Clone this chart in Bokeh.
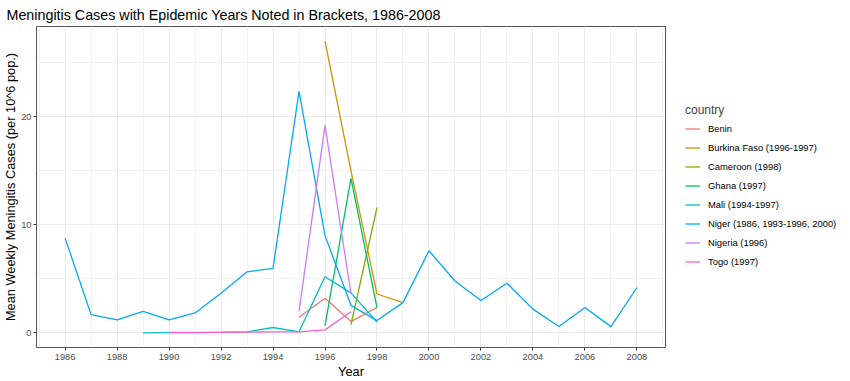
from bokeh.plotting import figure
from bokeh.models import Legend, LegendItem, FixedTicker, Range1d
from bokeh.embed import file_html
from bokeh.resources import INLINE

countries = ["Benin", "Burkina Faso (1996-1997)", "Cameroon (1998)", "Ghana (1997)",
             "Mali (1994-1997)", "Niger (1986, 1993-1996, 2000)", "Nigeria (1996)", "Togo (1997)"]
colors = ["#F8766D", "#CD9600", "#7CAE00", "#00BE67", "#00BFC4", "#00A9FF", "#C77CFF", "#FF61CC"]

benin_years = [1995, 1996, 1997, 1998]
benin_vals = [1.45, 3.2, 1.05, 2.35]

burkina_years = [1996, 1997, 1998, 1999]
burkina_vals = [27.0, 15.0, 3.6, 2.8]

cameroon_years = [1997, 1998]
cameroon_vals = [0.77, 11.6]

ghana_years = [1996, 1997, 1998]
ghana_vals = [0.67, 14.3, 2.35]

mali_years = [1989, 1990, 1991, 1992, 1993, 1994, 1995, 1996, 1997, 1998]
mali_vals = [0.0, 0.03, 0.03, 0.05, 0.1, 0.5, 0.1, 5.2, 3.7, 1.0]

niger_years = list(range(1986, 2009))
niger_vals = [8.77, 1.69, 1.2, 2.0, 1.2, 1.85, 3.67, 5.65, 5.98, 22.35, 9.0, 2.55,
              1.14, 2.8, 7.6, 4.8, 3.0, 4.6, 2.2, 0.6, 2.35, 0.58, 4.2]

nigeria_years = [1995, 1996, 1997]
nigeria_vals = [2.0, 19.2, 3.6]

togo_years = [1990, 1991, 1992, 1993, 1994, 1995, 1996, 1997]
togo_vals = [0.05, 0.05, 0.06, 0.08, 0.1, 0.1, 0.28, 1.95]

series = [(benin_years, benin_vals), (burkina_years, burkina_vals), (cameroon_years, cameroon_vals),
          (ghana_years, ghana_vals), (mali_years, mali_vals), (niger_years, niger_vals),
          (nigeria_years, nigeria_vals), (togo_years, togo_vals)]

x_ticks = list(range(1986, 2009, 2))
x_minor = list(range(1985, 2010, 2))
y_ticks = [0, 10, 20]
y_minor = [5, 15, 25]

FRAME_W = 629
FRAME_H = 321

p = figure(frame_width=FRAME_W, frame_height=FRAME_H, output_backend="svg", toolbar_location=None,
           x_range=Range1d(1984.9, 2009.1), y_range=Range1d(-1.35, 28.35),
           min_border_left=28, min_border_top=17, min_border_bottom=20, min_border_right=20,
           title="Meningitis Cases with Epidemic Years Noted in Brackets, 1986-2008")

p.title.text_font = "Liberation Sans"
p.title.text_font_size = "14.3px"
p.title.text_font_style = "normal"
p.title.text_color = "#000000"
p.title.standoff = 8
p.title.offset = -30

p.background_fill_color = "white"
p.border_fill_color = "white"
p.outline_line_color = "#555555"
p.outline_line_width = 1

p.xaxis.ticker = FixedTicker(ticks=x_ticks, minor_ticks=x_minor)
p.yaxis.ticker = FixedTicker(ticks=y_ticks, minor_ticks=y_minor)
p.xaxis.axis_label = "Year"
p.yaxis.axis_label = "Mean Weekly Meningitis Cases (per 10^6 pop.)"
for ax in (p.xaxis, p.yaxis):
    ax.axis_line_color = None
    ax.major_tick_line_color = "#333333"
    ax.major_tick_out = 3
    ax.major_tick_in = 0
    ax.minor_tick_line_color = None
    ax.major_label_text_font = "Liberation Sans"
    ax.major_label_text_font_size = "9.3px"
    ax.major_label_text_color = "#4D4D4D"
    ax.major_label_standoff = 2
    ax.axis_label_text_font = "Liberation Sans"
    ax.axis_label_text_font_size = "12.8px"
    ax.axis_label_text_font_style = "normal"
    ax.axis_label_text_color = "#000000"
    ax.axis_label_standoff = 1
p.yaxis.major_label_standoff = 1
p.yaxis.axis_label_standoff = 0

for g in (p.xgrid, p.ygrid):
    g.grid_line_color = "#EBEBEB"
    g.grid_line_width = 1
    g.minor_grid_line_color = "#F2F2F2"
    g.minor_grid_line_width = 1

items = []
for name, col, (xs, ys) in zip(countries, colors, series):
    r = p.line(xs, ys, line_color=col, line_width=1.3)
    items.append(LegendItem(label=name, renderers=[r]))

legend = Legend(items=items, title="country", location=(20, 76))
legend.title_text_font = "Liberation Sans"
legend.title_text_font_size = "12px"
legend.title_text_font_style = "normal"
legend.title_standoff = 2
legend.label_text_font = "Liberation Sans"
legend.label_text_font_size = "9.4px"
legend.label_text_color = "#000000"
legend.border_line_color = None
legend.background_fill_alpha = 0
legend.glyph_width = 15
legend.glyph_height = 19
legend.label_height = 19
legend.spacing = 0
legend.label_standoff = 8
legend.padding = 0
legend.margin = 0
p.add_layout(legend, "right")

open("out.html", "w").write(file_html(p, INLINE))
